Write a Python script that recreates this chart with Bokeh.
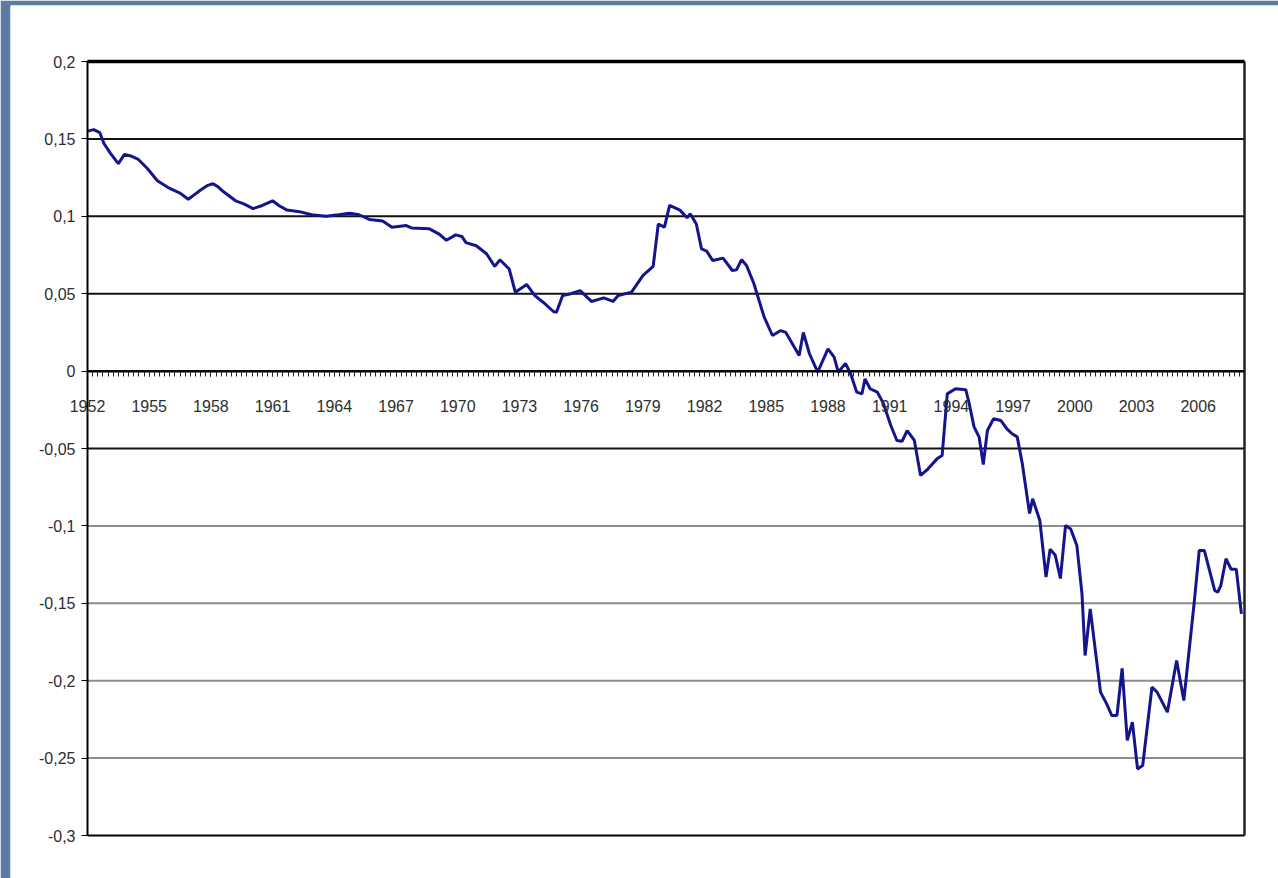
import numpy as np
from bokeh.plotting import figure
from bokeh.models import FixedTicker, CustomJSTickFormatter, Span, Range1d, LinearAxis
from bokeh.embed import file_html
from bokeh.resources import INLINE

# ---- data ----
years = [1952.0, 1952.3, 1952.6, 1952.8, 1953.1, 1953.5, 1953.8, 1954.1, 1954.45, 1954.9,
         1955.4, 1956.0, 1956.5, 1956.9, 1957.2, 1957.5, 1957.85, 1958.1, 1958.35, 1958.6,
         1959.2, 1959.6, 1960.05, 1960.5, 1961.0, 1961.3, 1961.7, 1962.3, 1962.9, 1963.6,
         1964.2, 1964.75, 1965.2, 1965.7, 1966.35, 1966.8, 1967.5, 1967.75, 1968.6, 1969.1,
         1969.45, 1969.9, 1970.2, 1970.4, 1970.9, 1971.4, 1971.8, 1972.05, 1972.5, 1972.8,
         1973.35, 1973.75, 1974.15, 1974.65, 1974.8, 1975.1, 1975.5, 1975.95, 1976.5, 1977.1,
         1977.55, 1977.8, 1978.45, 1979.0, 1979.5, 1979.75, 1980.05, 1980.3, 1980.8, 1981.15,
         1981.3, 1981.6, 1981.85, 1982.1, 1982.4, 1982.9, 1983.35, 1983.55, 1983.8, 1984.05,
         1984.4, 1984.9, 1985.3, 1985.7, 1985.95, 1986.6, 1986.8, 1987.1, 1987.5, 1988.0,
         1988.3, 1988.5, 1988.85, 1989.1, 1989.4, 1989.65, 1989.8, 1990.05, 1990.4, 1990.7,
         1991.05, 1991.35, 1991.6, 1991.85, 1992.2, 1992.5, 1992.8, 1993.3, 1993.55, 1993.8,
         1994.2, 1994.7, 1994.85, 1995.1, 1995.35, 1995.55, 1995.75, 1996.05, 1996.4, 1996.7,
         1996.95, 1997.2, 1997.45, 1997.8, 1997.95, 1998.3, 1998.6, 1998.8, 1999.05, 1999.3,
         1999.55, 1999.8, 2000.1, 2000.35, 2000.5, 2000.75, 2001.25, 2001.55, 2001.8, 2002.05,
         2002.3, 2002.55, 2002.8, 2003.05, 2003.3, 2003.75, 2004.0, 2004.5, 2004.95, 2005.3,
         2005.8, 2006.05, 2006.3, 2006.8, 2006.95, 2007.1, 2007.35, 2007.6, 2007.85, 2008.1]

values = [0.155, 0.156, 0.154, 0.147, 0.141, 0.134, 0.140, 0.139, 0.137, 0.131,
          0.123, 0.118, 0.115, 0.111, 0.114, 0.117, 0.120, 0.121, 0.119, 0.116,
          0.110, 0.108, 0.105, 0.107, 0.110, 0.107, 0.104, 0.103, 0.101, 0.100,
          0.101, 0.102, 0.101, 0.098, 0.097, 0.093, 0.094, 0.0925, 0.092, 0.0885,
          0.0845, 0.088, 0.087, 0.083, 0.081, 0.0758, 0.0676, 0.0719, 0.066, 0.051,
          0.056, 0.0488, 0.0445, 0.0385, 0.038, 0.0488, 0.050, 0.052, 0.045, 0.0473,
          0.045, 0.0488, 0.051, 0.0617, 0.0676, 0.095, 0.093, 0.107, 0.104, 0.099,
          0.1016, 0.095, 0.079, 0.0775, 0.0714, 0.073, 0.065, 0.0654, 0.0719, 0.068,
          0.0564, 0.0348, 0.023, 0.0262, 0.025, 0.0101, 0.025, 0.0112, -0.0007, 0.0144,
          0.009, -0.0007, 0.005, -0.0017, -0.0136, -0.0147, -0.005, -0.0114, -0.0136, -0.021,
          -0.035, -0.0448, -0.0453, -0.0384, -0.0448, -0.0674, -0.064, -0.0567, -0.0545, -0.0147,
          -0.0114, -0.012, -0.020, -0.036, -0.0427, -0.0603, -0.0384, -0.0308, -0.0319, -0.0373,
          -0.0405, -0.0425, -0.060, -0.092, -0.0825, -0.0965, -0.133, -0.115, -0.119, -0.134,
          -0.0997, -0.102, -0.1127, -0.144, -0.1837, -0.1536, -0.2074, -0.215, -0.2225, -0.2225,
          -0.192, -0.2385, -0.2268, -0.257, -0.2548, -0.2042, -0.2074, -0.2203, -0.187, -0.2128,
          -0.150, -0.1159, -0.1159, -0.1417, -0.1428, -0.1385, -0.1212, -0.128, -0.128, -0.1568]

x_tick_years = [1952, 1955, 1958, 1961, 1964, 1967, 1970, 1973, 1976, 1979,
                1982, 1985, 1988, 1991, 1994, 1997, 2000, 2003, 2006]
y_ticks = [-0.3, -0.25, -0.2, -0.15, -0.1, -0.05, 0, 0.05, 0.1, 0.15, 0.2]

X_MIN, X_MAX = 1952.0, 2008.25     # category axis extent (quarters)
Y_MIN, Y_MAX = -0.3, 0.2

# ---- layout (pixels) ----
W, H = 1278, 878
PANEL_L, PANEL_T = 10, 5           # white slide panel inside blue frame
PLOT_L, PLOT_R, PLOT_T, PLOT_B = 87, 1244, 61, 835
pxx = (PLOT_R - PLOT_L) / (X_MAX - X_MIN)
pxy = (PLOT_B - PLOT_T) / (Y_MAX - Y_MIN)
xr = Range1d(X_MIN - (PLOT_L - PANEL_L) / pxx, X_MAX + (W - PLOT_R) / pxx)
yr = Range1d(Y_MIN - (H - PLOT_B) / pxy, Y_MAX + (PLOT_T - PANEL_T) / pxy)

FONT = "Liberation Sans"
LABEL_COLOR = "#2e2e2e"

p = figure(width=W, height=H, output_backend="svg", toolbar_location=None,
           x_range=xr, y_range=yr,
           min_border_left=PANEL_L, min_border_right=0, min_border_top=PANEL_T, min_border_bottom=0)
p.background_fill_color = "white"
p.border_fill_color = "#5a7ba3"
p.outline_line_color = None
p.xgrid.visible = False
p.ygrid.visible = False

# horizontal gridlines, bounded to the plot area
dark = [t for t in y_ticks if t >= -0.05]
light = [t for t in y_ticks if -0.3 < t < -0.05]
p.segment(x0=[X_MIN] * len(light), x1=[X_MAX] * len(light), y0=light, y1=light,
          line_color="#8c8c8c", line_width=2)
p.segment(x0=[X_MIN] * len(dark), x1=[X_MAX] * len(dark), y0=dark, y1=dark,
          line_color="#111111", line_width=2)
# frame lines: top (thicker), bottom, right
p.segment(x0=[X_MIN], x1=[X_MAX], y0=[Y_MAX], y1=[Y_MAX], line_color="black", line_width=3.5)
p.segment(x0=[X_MIN], x1=[X_MAX], y0=[Y_MIN], y1=[Y_MIN], line_color="black", line_width=2)
p.segment(x0=[X_MAX], x1=[X_MAX], y0=[Y_MIN], y1=[Y_MAX], line_color="#222222", line_width=2.5)

# y axis at the left edge of the plot area
yax = p.yaxis[0]
yax.fixed_location = X_MIN
yax.bounds = (Y_MIN, Y_MAX)
yax.ticker = FixedTicker(ticks=y_ticks, minor_ticks=[])
yax.formatter = CustomJSTickFormatter(code="""
let s = tick.toFixed(2).replace(/0+$/, '').replace(/\\.$/, '');
if (s === '-0') s = '0';
return s.replace('.', ',');
""")
yax.axis_line_color = "black"
yax.axis_line_width = 2
yax.major_tick_out = 6
yax.major_tick_in = 0
yax.major_tick_line_color = "black"
yax.major_tick_line_width = 1
yax.minor_tick_out = 0
yax.major_label_text_font = FONT
yax.major_label_text_font_size = "16px"
yax.major_label_text_color = LABEL_COLOR
yax.major_label_standoff = 6

# x axis crossing at zero
xax = p.xaxis[0]
xax.fixed_location = 0
xax.bounds = (X_MIN, X_MAX)
quarters = list(np.arange(X_MIN, X_MAX + 0.01, 0.25))
xax.ticker = FixedTicker(ticks=x_tick_years, minor_ticks=quarters)
xax.major_label_overrides = {y: str(y) for y in x_tick_years}
xax.axis_line_color = "black"
xax.axis_line_width = 2
xax.major_tick_out = 5
xax.major_tick_in = 0
xax.minor_tick_out = 5
xax.minor_tick_in = 0
xax.major_tick_line_color = "black"
xax.minor_tick_line_color = "#222222"
xax.minor_tick_line_width = 1
xax.major_label_text_font = FONT
xax.major_label_text_font_size = "16px"
xax.major_label_text_color = LABEL_COLOR
xax.major_label_standoff = 24

p.line(years, values, line_color="#14148c", line_width=3)

html = file_html(p, INLINE)
open("out.html", "w").write(html)
